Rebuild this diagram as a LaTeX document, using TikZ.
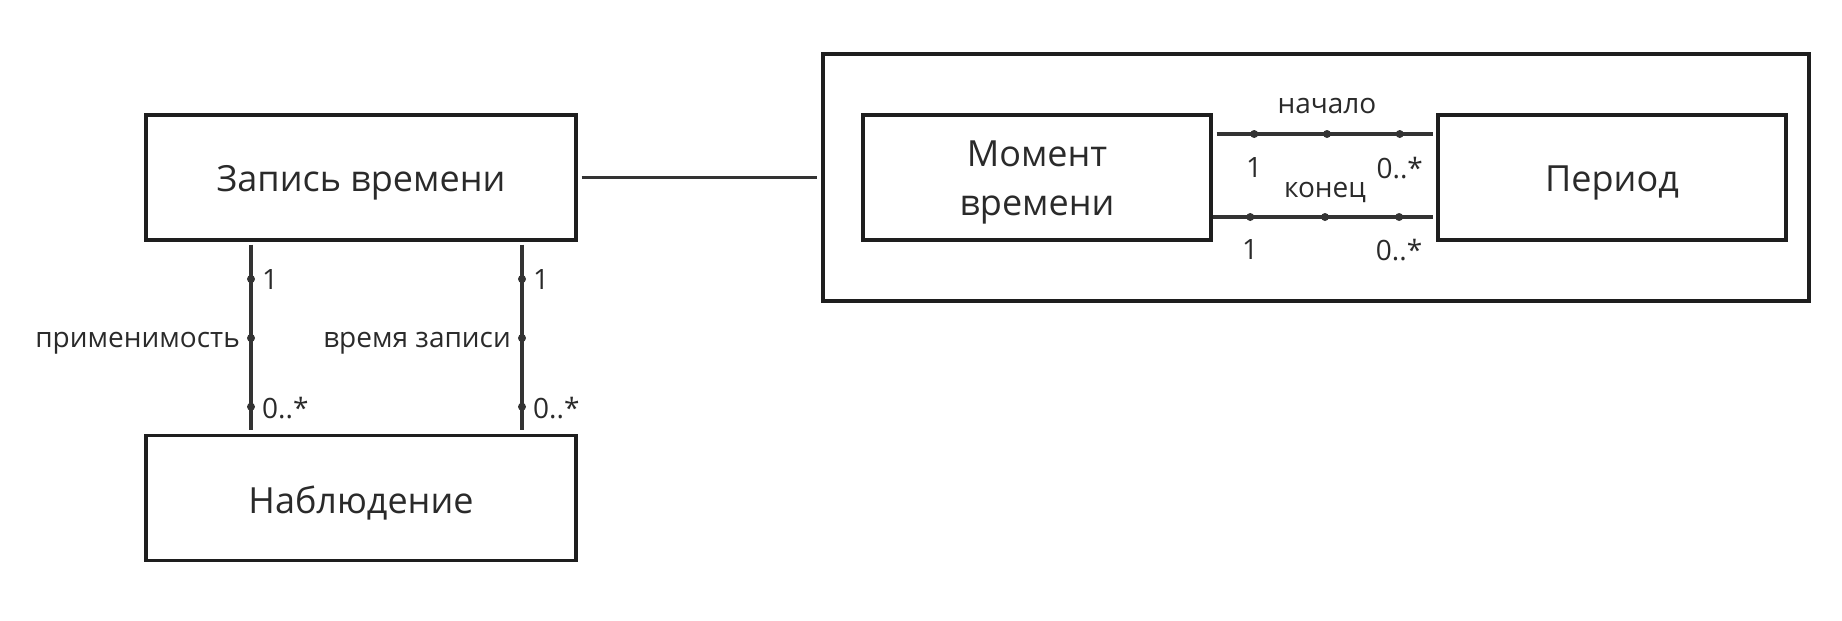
\documentclass[tikz,border=0pt]{standalone}
\usepackage{fontspec}
\setmainfont{Open Sans}
\usetikzlibrary{calc}
\definecolor{edge}{HTML}{1E1E1E}
\definecolor{wire}{HTML}{333333}
\definecolor{ink}{HTML}{2A2A2A}
\begin{document}
\begin{tikzpicture}[x=1pt,y=-1pt,
  cls/.style={draw=edge, line width=3.4pt, rectangle, minimum width=430pt,
    minimum height=125pt, inner sep=0pt, text=ink, align=center,
    font=\fontsize{36}{49}\selectfont},
  pkgbox/.style={draw=edge, line width=3.4pt, rectangle, minimum width=986pt,
    minimum height=247pt, inner sep=0pt},
  wire/.style={draw=wire, line width=3.4pt},
  dot/.style={circle, fill=wire, inner sep=0pt, minimum size=8pt},
  lbl/.style={text=ink, inner sep=0pt, font=\fontsize{28}{32}\selectfont}
]
\useasboundingbox (0,0) rectangle (1842,621);

% classes
\node[cls] (zap) at (361,177.5) {};
\node[cls] (nab) at (361,498) {};
\node[pkgbox] (pkg) at (1316,177.5) {};
\node[cls, minimum width=348pt] (mom) at (1037,177.5) {};
\node[cls, minimum width=348pt] (per) at (1612,177.5) {};

% class names
\node[text=ink, font=\fontsize{36}{49}\selectfont] (zapt) at ($(zap.center)+(0,5)$) {Запись времени};
\node[text=ink, font=\fontsize{36}{49}\selectfont] (nabt) at ($(nab.center)+(0,5)$) {Наблюдение};
\node[text=ink, font=\fontsize{36}{49}\selectfont, align=center] (momt) at ($(mom.center)+(0,5)$) {Момент\\времени};
\node[text=ink, font=\fontsize{36}{49}\selectfont] (pert) at ($(per.center)+(0,5)$) {Период};

% link from the record to the package
\draw[wire] ([xshift=4pt]zap.east) -- ([xshift=-4pt]pkg.west);

% applicability association
\coordinate (a1) at ($(zap.south)+(-110,3)$);
\coordinate (a2) at ($(nab.north)+(-110,-3.5)$);
\draw[wire] (a1) -- node[dot, pos=0.185] (ad1) {}
                    node[dot, pos=0.503] (ad2) {}
                    node[dot, pos=0.873] (ad3) {} (a2);
\node[lbl, anchor=west] at ($(ad1)+(11,0)$) {1};
\node[lbl, anchor=east] at ($(ad2)+(-11,5)$) {применимость};
\node[lbl, anchor=west] at ($(ad3)+(11,1)$) {0..*};

% recording time association
\coordinate (b1) at ($(zap.south)+(161,3)$);
\coordinate (b2) at ($(nab.north)+(161,-3.5)$);
\draw[wire] (b1) -- node[dot, pos=0.185] (bd1) {}
                    node[dot, pos=0.503] (bd2) {}
                    node[dot, pos=0.873] (bd3) {} (b2);
\node[lbl, anchor=west] at ($(bd1)+(11,0)$) {1};
\node[lbl, anchor=east] at ($(bd2)+(-11,5)$) {время записи};
\node[lbl, anchor=west] at ($(bd3)+(11,1)$) {0..*};

% start association
\coordinate (c1) at ($(mom.east)+(4,-43.5)$);
\coordinate (c2) at ($(per.west)+(-3,-43.5)$);
\draw[wire] (c1) -- node[dot, pos=0.173] (cd1) {}
                    node[dot, pos=0.509] (cd2) {}
                    node[dot, pos=0.845] (cd3) {} (c2);
\node[lbl] at ($(cd2)+(0,-28)$) {начало};
\node[lbl] at ($(cd1)+(0,34)$) {1};
\node[lbl] at ($(cd3)+(0,34)$) {0..*};

% end association
\coordinate (e1) at ($(mom.east)+(0,39.5)$);
\coordinate (e2) at ($(per.west)+(-3,39.5)$);
\draw[wire] (e1) -- node[dot, pos=0.17] (ed1) {}
                    node[dot, pos=0.509] (ed2) {}
                    node[dot, pos=0.845] (ed3) {} (e2);
\node[lbl] at ($(ed2)+(0,-25)$) {конец};
\node[lbl] at ($(ed1)+(0,33)$) {1};
\node[lbl] at ($(ed3)+(0,33)$) {0..*};
\end{tikzpicture}
\end{document}
